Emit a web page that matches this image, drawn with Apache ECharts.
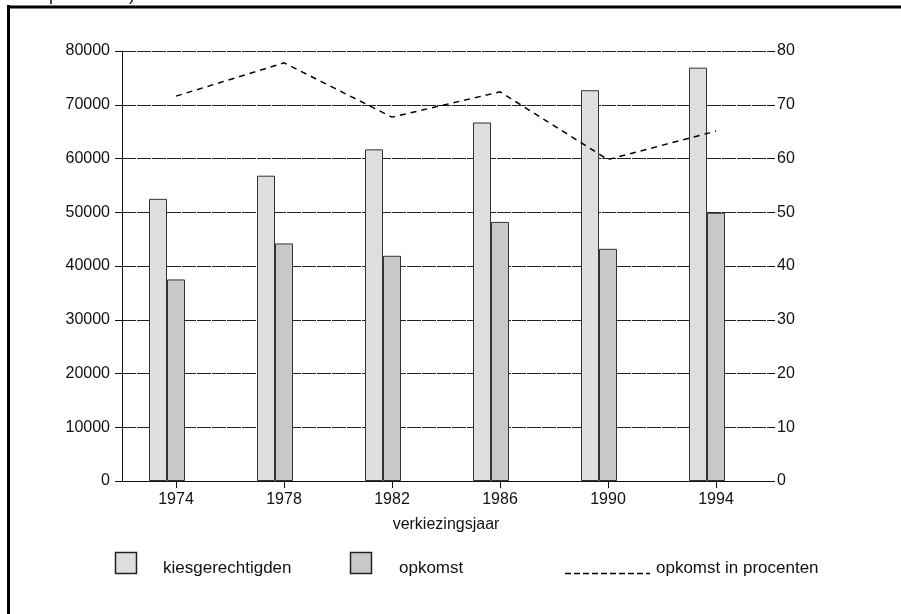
<!DOCTYPE html>
<html>
<head>
<meta charset="utf-8">
<script src="https://cdn.jsdelivr.net/npm/echarts@6/dist/echarts.min.js"></script>
<style>html,body{margin:0;padding:0;background:#fff}#c{width:901px;height:614px}</style>
</head>
<body>
<div id="c"></div>
<script>
var categories = ['1974', '1978', '1982', '1986', '1990', '1994'];
var kiesgerechtigden = [52500, 56800, 61700, 66700, 72700, 76900];
var opkomst = [37500, 44200, 41900, 48200, 43200, 49900];
var opkomstProcent = [71.6, 77.8, 67.7, 72.4, 59.8, 65.1];
var leftTicks = [0, 10000, 20000, 30000, 40000, 50000, 60000, 70000, 80000];
var rightTicks = [0, 10, 20, 30, 40, 50, 60, 70, 80];

var font = 'Liberation Sans, Arial, sans-serif';
var chart = echarts.init(document.getElementById('c'), null, {renderer: 'canvas'});
chart.setOption({
  animation: false,
  backgroundColor: '#fff',
  grid: {left: 122, right: 131, top: 51, bottom: 133, containLabel: false},
  xAxis: {
    type: 'category', data: categories, boundaryGap: true,
    name: 'verkiezingsjaar', nameLocation: 'middle', nameGap: 36,
    nameTextStyle: {fontFamily: font, fontSize: 16, color: '#111'},
    axisLine: {lineStyle: {color: '#111', width: 1}},
    axisTick: {show: true, alignWithLabel: true, length: 7, lineStyle: {color: '#111'}},
    axisLabel: {fontFamily: font, fontSize: 16, color: '#111', margin: 11}
  },
  yAxis: [
    {
      type: 'value', min: leftTicks[0], max: leftTicks[leftTicks.length - 1], interval: 10000,
      axisLine: {show: true, lineStyle: {color: '#111'}},
      axisTick: {show: true, length: 7, lineStyle: {color: '#111'}},
      axisLabel: {fontFamily: font, fontSize: 16, color: '#111', margin: 12,
        formatter: function (v) { return String(v); }},
      splitLine: {show: true, lineStyle: {color: '#222', width: 1, type: [14, 1]}}
    },
    {
      type: 'value', min: rightTicks[0], max: rightTicks[rightTicks.length - 1], interval: 10,
      position: 'right',
      axisLine: {show: false},
      axisTick: {show: true, length: 5, lineStyle: {color: '#111'}},
      axisLabel: {fontFamily: font, fontSize: 16, color: '#111', margin: 7,
        formatter: function (v) { return String(v); }},
      splitLine: {show: false}
    }
  ],
  series: [
    {
      name: 'kiesgerechtigden', type: 'bar', data: kiesgerechtigden, yAxisIndex: 0,
      barWidth: 18, barGap: '0%',
      itemStyle: {color: '#dedede', borderColor: '#333', borderWidth: 1}
    },
    {
      name: 'opkomst', type: 'bar', data: opkomst, yAxisIndex: 0,
      barWidth: 18, barGap: '0%',
      itemStyle: {color: '#c8c8c8', borderColor: '#333', borderWidth: 1}
    },
    {
      name: 'spacer', type: 'bar', data: categories.map(function(){return '-';}), yAxisIndex: 0,
      barWidth: 18, barGap: '0%', silent: true,
      itemStyle: {color: 'rgba(0,0,0,0)'}
    },
    {
      name: 'opkomst in procenten', type: 'line', data: opkomstProcent, yAxisIndex: 1,
      symbol: 'none', z: 5,
      lineStyle: {color: '#000', width: 1.5, type: [6, 5]}
    }
  ],
  graphic: [
    {type: 'line', shape: {x1: 8.5, y1: 5, x2: 8.5, y2: 614}, style: {stroke: '#000', lineWidth: 3}},
    {type: 'line', shape: {x1: 7, y1: 7, x2: 901, y2: 7}, style: {stroke: '#000', lineWidth: 3}},
    {type: 'text', x: 135, y: 4, style: {text: 'in procenten)', font: '18px ' + font, fill: '#111', textAlign: 'right', textVerticalAlign: 'bottom'}},
    {type: 'rect', shape: {x: 115.5, y: 552.5, width: 21, height: 21}, style: {fill: '#dedede', stroke: '#222', lineWidth: 1.5}},
    {type: 'text', x: 163, y: 568, style: {text: 'kiesgerechtigden', font: '17px ' + font, fill: '#111', textVerticalAlign: 'middle'}},
    {type: 'rect', shape: {x: 350.5, y: 552.5, width: 21, height: 21}, style: {fill: '#c8c8c8', stroke: '#222', lineWidth: 1.5}},
    {type: 'text', x: 399, y: 568, style: {text: 'opkomst', font: '17px ' + font, fill: '#111', textVerticalAlign: 'middle'}},
    {type: 'line', shape: {x1: 565, y1: 573.5, x2: 650, y2: 573.5}, style: {stroke: '#000', lineWidth: 1.5, lineDash: [6, 3]}},
    {type: 'text', x: 656, y: 568, style: {text: 'opkomst in procenten', font: '17px ' + font, fill: '#111', textVerticalAlign: 'middle'}}
  ]
});
</script>
</body>
</html>
